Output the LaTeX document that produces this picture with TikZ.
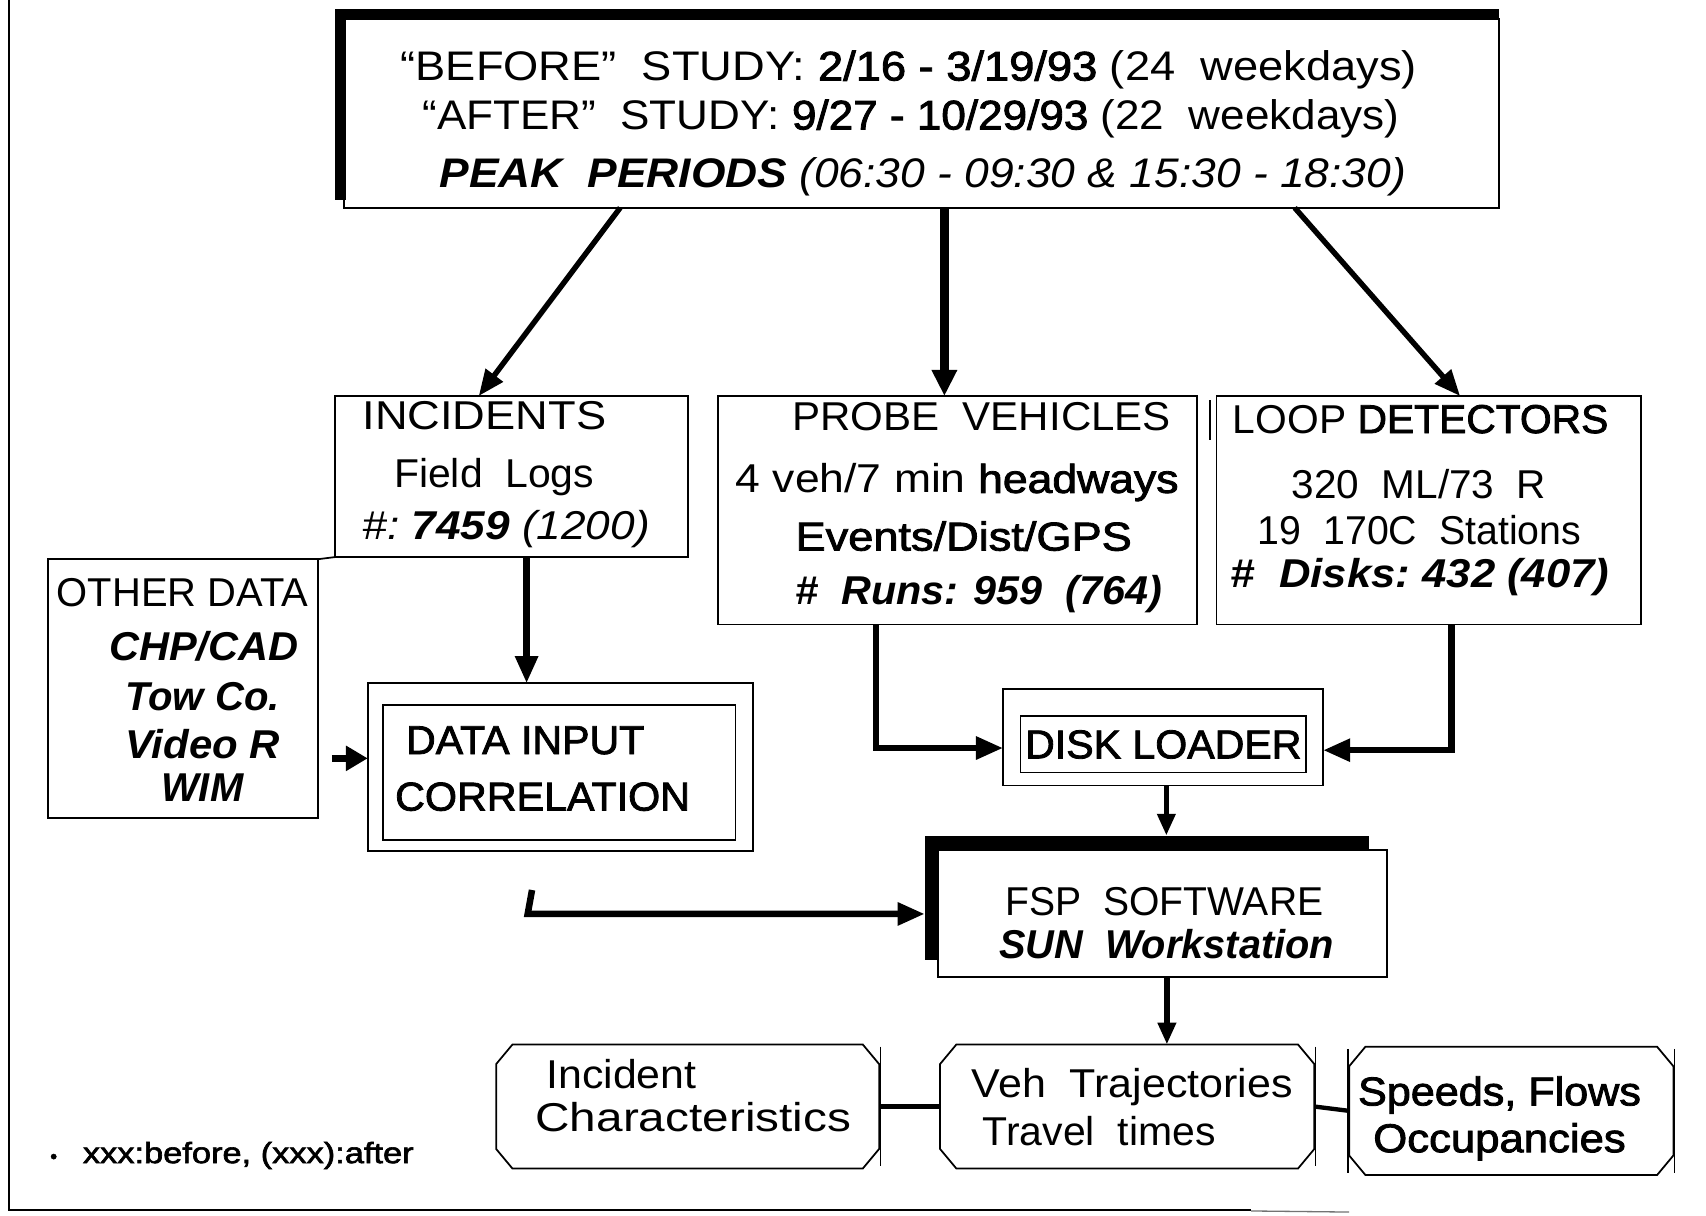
\documentclass[tikz,border=0pt]{standalone}
\usepackage{fontspec}
\setmainfont{Liberation Sans}
\newfontfamily\med[FakeBold=2]{Liberation Sans}
\usetikzlibrary{arrows.meta,calc,fit}

% set a line of text to a given width (in pt), keeping its height
\newcommand\fw[2]{\resizebox{#1pt}{\height}{#2}}

\begin{document}
\begin{tikzpicture}[x=1pt,y=-1pt,
  box/.style={draw, line width=1.6pt, inner sep=0pt, outer sep=0pt},
  area/.style={inner sep=0pt, outer sep=0pt},
  txt/.style={inner sep=0pt, anchor=base west, font=\fontsize{37}{40}\selectfont},
  bigtxt/.style={txt, font=\fontsize{38}{42}\selectfont},
  note/.style={txt, font=\fontsize{27}{29}\selectfont},
  thinln/.style={line width=1.6pt},
  arrA/.style={line width=5pt, -{Triangle[length=24pt,width=19pt]}},
  arrB/.style={line width=8pt, -{Triangle[length=24pt,width=22pt]}},
  arrC/.style={line width=6pt, -{Triangle[length=25pt,width=20pt]}},
  arrD/.style={line width=7pt, -{Triangle[length=20pt,width=22pt]}},
  arrE/.style={line width=5pt, -{Triangle[length=20pt,width=16pt]}},
  link/.style={line width=4pt}]

\fill[white] (0,0) rectangle (1568,1117);
\useasboundingbox (0,0) rectangle (1568,1117);

% page frame
\draw[line width=1.8pt] (8,0) -- (8,1112) -- (1150,1112);
\draw[line width=1.2pt, black!55] (1150,1113) -- (1240,1114);

% study period box with heavy top and left edges
\node[box, fit={(316,17) (1378,191)}] (study) {};
\fill (308,8) rectangle (1378,18);
\fill (308,8) rectangle (318,184);
\node[bigtxt] (s1) at (368,74) {\fw{934}{“BEFORE”\ \ STUDY:\ {\med 2/16 - 3/19/93}\ (24\ \ weekdays)}};
\node[bigtxt] (s2) at (388,119) {\fw{898}{“AFTER”\ \ STUDY:\ {\med 9/27 - 10/29/93}\ (22\ \ weekdays)}};
\node[bigtxt] (s3) at (404,172) {\fw{888}{\textbf{\textit{PEAK\ \ PERIODS}}\ \textit{(06:30 - 09:30 \& 15:30 - 18:30)}}};

% data source boxes
\node[box, fit={(308,364) (632,512)}] (incidents) {};
\node[txt] (i1) at (333,395) {\fw{224}{INCIDENTS}};
\node[txt] (i2) at (362,448) {\fw{184}{Field\ \ Logs}};
\node[txt] (i3) at (333,496) {\fw{264}{\textit{\#:\ \textbf{7459}\ (1200)}}};

\node[box, fit={(660,364) (1100,574)}] (probe) {};
\node[txt] (p1) at (728,396) {\fw{348}{PROBE\ \ VEHICLES}};
\node[txt] (p2) at (676,453) {\fw{407}{4 veh/7 min {\med headways}}};
\node[txt] (p3) at (731,506) {\fw{309}{\med Events/Dist/GPS}};
\node[txt] (p4) at (731,556) {\fw{337}{\textbf{\textit{\#\ \ Runs: 959\ \ (764)}}}};

\node[box, fit={(1118,364) (1508,574)}] (loop) {};
\draw[thinln] (1112,368) -- (1112,404);
\node[txt] (l1) at (1133,398) {\fw{345}{LOOP {\med DETECTORS}}};
\node[txt] (l2) at (1187,458) {\fw{234}{320\ \ ML/73\ \ R}};
\node[txt] (l3) at (1156,500) {\fw{297}{19\ \ 170C\ \ Stations}};
\node[txt] (l4) at (1131,540) {\fw{348}{\textbf{\textit{\#\ \ Disks:\ 432\ (407)}}}};

\node[box, fit={(44,514) (292,752)}] (other) {};
\draw[thinln] (other.north east) -- (incidents.south west);
\node[txt] (o1) at (52,557) {\fw{231}{OTHER DATA}};
\node[txt] (o2) at (100,607) {\fw{174}{\textbf{\textit{CHP/CAD}}}};
\node[txt] (o3) at (115,653) {\fw{142}{\textbf{\textit{Tow Co.}}}};
\node[txt] (o4) at (115,697) {\fw{142}{\textbf{\textit{Video R}}}};
\node[txt] (o5) at (148,737) {\fw{76}{\textbf{\textit{WIM}}}};

% processing boxes
\node[box, fit={(338,628) (692,782)}] (dic) {};
\draw[thinln] (352,648) rectangle (676,772);
\node[txt] (d1) at (373,693) {\fw{219}{\med DATA INPUT}};
\node[txt] (d2) at (363,745) {\fw{271}{\med CORRELATION}};

\node[box, fit={(922,633) (1216,722)}] (disk) {};
\draw[thinln] (938,658) rectangle (1200,710);
\node[txt] (k1) at (942,697) {\fw{254}{\med DISK LOADER}};

\node[area, fit={(850,768) (1275,898)}] (fsp) {};
\draw[thinln] (862,781) rectangle (1275,898);
\fill (850,768) rectangle (1258,781);
\fill (850,768) rectangle (863,882);
\node[txt] (f1) at (924,841) {\fw{292}{FSP\ \ SOFTWARE}};
\node[txt] (f2) at (918,881) {\fw{308}{\textbf{\textit{SUN\ \ Workstation}}}};

% output boxes: chamfered corners, side rule running past the corners
\node[area, fit={(456,960) (808,1074)}] (ic) {};
\node[area, fit={(864,960) (1208,1074)}] (vt) {};
\node[area, fit={(1240,962) (1538,1080)}] (sf) {};
\foreach \n in {ic,vt,sf}{
  \draw[thinln]
    ($(\n.north west)+(15,0)$) -- ($(\n.north east)+(-15,0)$)
    -- ($(\n.north east)+(0,18)$) -- ($(\n.south east)+(0,-18)$)
    -- ($(\n.south east)+(-15,0)$) -- ($(\n.south west)+(15,0)$)
    -- ($(\n.south west)+(0,-18)$) -- ($(\n.north west)+(0,18)$) -- cycle;
  \draw[line width=1.2pt] ($(\n.north east)+(1,2)$) -- ($(\n.south east)+(1,-2)$);
}
\draw[line width=1.2pt] ($(sf.north west)+(-1,2)$) -- ($(sf.south west)+(-1,-2)$);
\node[txt] (c1) at (502,1000) {\fw{138}{Incident}};
\node[txt] (c2) at (492,1040) {\fw{290}{Characteristics}};
\node[txt] (v1) at (893,1009) {\fw{295}{Veh\ \ Trajectories}};
\node[txt] (v2) at (903,1053) {\fw{214}{Travel\ \ times}};
\node[txt] (q1) at (1248,1016) {\fw{260}{\med Speeds, Flows}};
\node[txt] (q2) at (1262,1059) {\fw{232}{\med Occupancies}};

\node[note, font=\fontsize{18}{20}\selectfont] (bul) at (46,1069) {\med •};
\node[note] (fn) at (76,1069) {\fw{304}{\med xxx:before, (xxx):after}};

% connectors
\draw[arrA] ([xshift=254pt]study.south west) -- ([xshift=132pt]incidents.north west);
\draw[arrB] ([xshift=552pt]study.south west) -- ([xshift=208pt]probe.north west);
\draw[arrA] ([xshift=874pt]study.south west) -- ([xshift=224pt]loop.north west);

\draw[arrC] ([xshift=176pt]incidents.south west) -- ([xshift=176pt]incidents.south west |- dic.north);
\coordinate (oarr) at (305,697);
\draw[arrD] (oarr) -- (oarr -| dic.west);

\draw[arrC] ([xshift=145pt]probe.south west) |- ([yshift=-10pt]disk.west);
\draw[arrC] ([xshift=216pt]loop.south west) |- ([yshift=-12pt]disk.east);
\draw[arrE] ([xshift=3pt]disk.south) -- ([xshift=3pt]disk.south |- fsp.north);

\coordinate (lstart) at (489,818);
\coordinate (lcorner) at (485,840);
\draw[arrC, line cap=butt] (lstart) -- (lcorner) -- (lcorner -| fsp.west);

\draw[arrE] ([xshift=10pt]fsp.south) -- ([xshift=10pt]fsp.south |- vt.north);

\draw[link] (ic.east) -- (vt.west);
\draw[link] (vt.east) -- (sf.west);
\end{tikzpicture}
\end{document}
